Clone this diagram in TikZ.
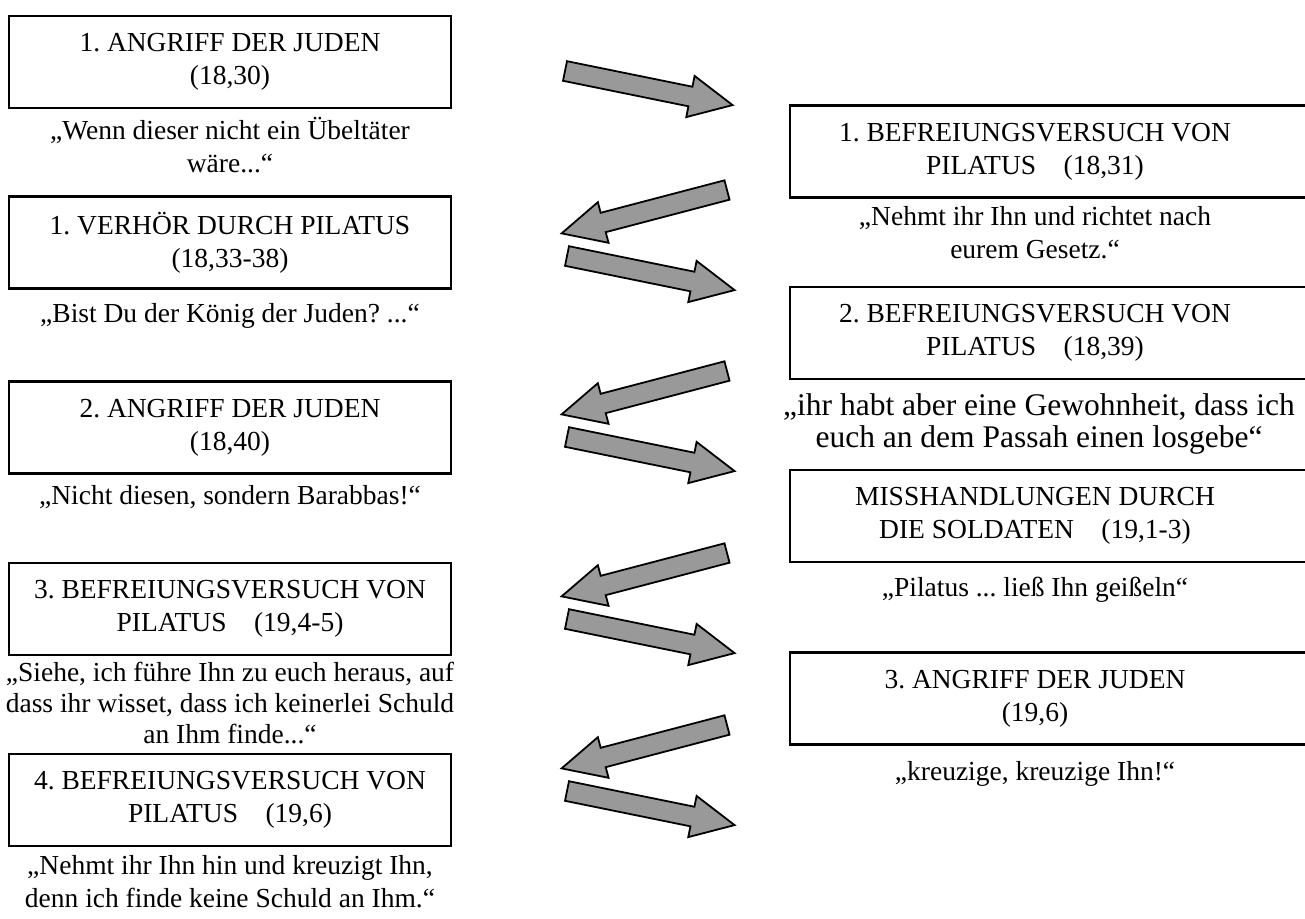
\documentclass[tikz,border=0pt]{standalone}
\usepackage{fontspec}
\setmainfont{Liberation Serif}
\usetikzlibrary{positioning}
\frenchspacing

\newcommand{\passionarrow}[3]{\draw[blockarrow,shift={(#1,#2)},rotate=#3] (0,-10) -- (128,-10) -- (128,-21) -- (171,0) -- (128,21) -- (128,10) -- (0,10) -- cycle;}

\begin{document}
\begin{tikzpicture}[x=1pt,y=-1pt,every node/.style={font=\fontsize{27.5}{33}\selectfont,align=center},lbox/.style={draw,line width=2.5pt,minimum width=442pt,minimum height=92pt,inner sep=0pt},rbox/.style={minimum width=490pt,minimum height=92pt,inner sep=0pt},quote/.style={inner sep=0pt},frame/.style={line width=2.5pt},blockarrow/.style={draw,line width=1.8pt,fill=black!40,line join=miter}]
  \useasboundingbox (0,0) rectangle (1305,918);

  \node[lbox] (angriff1) at (230,62) {1. ANGRIFF DER JUDEN\\(18,30)};
  \node[quote] (wenn) at (230,145) {„Wenn dieser nicht ein Übeltäter\\wäre...“};

  \node[lbox] (verhoer) at (230,242.5) {1. VERHÖR DURCH PILATUS\\(18,33-38)};
  \node[quote,anchor=base] (bist) at (230,322) {„Bist Du der König der Juden? ...“};

  \node[lbox] (angriff2) at (230,427.5) {2. ANGRIFF DER JUDEN\\(18,40)};
  \node[quote,anchor=base] (nicht) at (230,504) {„Nicht diesen, sondern Barabbas!“};

  \node[lbox] (befreiung3) at (230,609) {3. BEFREIUNGSVERSUCH VON\\PILATUS\quad(19,4-5)};
  \node[quote,font=\fontsize{27.5}{31}\selectfont] (siehe) at (230,703) {„Siehe, ich führe Ihn zu euch heraus, auf\\dass ihr wisset, dass ich keinerlei Schuld\\an Ihm finde...“};

  \node[lbox] (befreiung4) at (230,800) {4. BEFREIUNGSVERSUCH VON\\PILATUS\quad(19,6)};
  \node[quote] (kreuzigt) at (230,882) {„Nehmt ihr Ihn hin und kreuzigt Ihn,\\denn ich finde keine Schuld an Ihm.“};

  \node[rbox] (befreiung1) at (1035,151.5) {1. BEFREIUNGSVERSUCH VON\\PILATUS\quad(18,31)};
  \node[quote] (richtet) at (1035,233) {„Nehmt ihr Ihn und richtet nach\\eurem Gesetz.“};

  \node[rbox] (befreiung2) at (1035,333) {2. BEFREIUNGSVERSUCH VON\\PILATUS\quad(18,39)};
  \node[quote,font=\fontsize{31.5}{32}\selectfont] (gewohnheit) at (1039,424) {„ihr habt aber eine Gewohnheit, dass ich\\euch an dem Passah einen losgebe“};

  \node[rbox] (soldaten) at (1035,516) {MISSHANDLUNGEN DURCH\\DIE SOLDATEN\quad(19,1-3)};
  \node[quote,anchor=base] (geisseln) at (1035,596) {„Pilatus ... ließ Ihn geißeln“};

  \node[rbox] (angriff3) at (1035,698.5) {3. ANGRIFF DER JUDEN\\(19,6)};
  \node[quote,anchor=base] (kreuzige) at (1035,780) {„kreuzige, kreuzige Ihn!“};

  \foreach \n in {befreiung1,befreiung2,soldaten,angriff3}
    \draw[frame] ([xshift=40pt]\n.north east) -| (\n.south west) -- ([xshift=40pt]\n.south east);

  \passionarrow{565}{71}{-11.5}
  \passionarrow{727}{190}{194.7}
  \passionarrow{567}{256}{-11.5}
  \passionarrow{727}{371}{194.7}
  \passionarrow{567}{437}{-11.5}
  \passionarrow{727}{553}{194.7}
  \passionarrow{567}{619}{-11.5}
  \passionarrow{727}{725}{194.7}
  \passionarrow{567}{791}{-11.5}
\end{tikzpicture}
\end{document}
